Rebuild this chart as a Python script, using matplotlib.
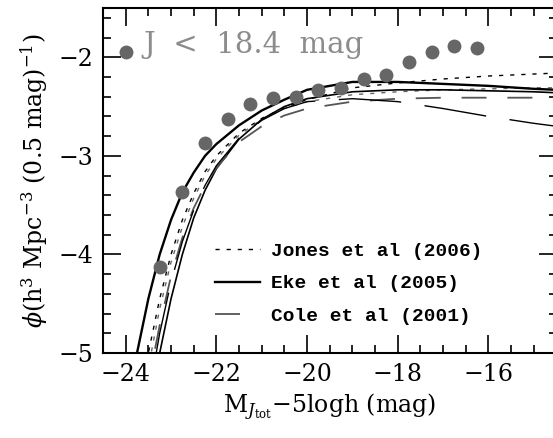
import numpy as np
import matplotlib
matplotlib.use("Agg")
import matplotlib.pyplot as plt
from matplotlib.ticker import MultipleLocator

# observed J-band luminosity function (J < 18.4 mag), log phi per 0.5 mag
obs_mag = [-24.0, -23.25, -22.75, -22.25, -21.75, -21.25, -20.75, -20.25,
           -19.75, -19.25, -18.75, -18.25, -17.75, -17.25, -16.75, -16.25]
obs_phi = [-1.95, -4.13, -3.37, -2.87, -2.63, -2.47, -2.41, -2.40,
           -2.33, -2.31, -2.22, -2.18, -2.05, -1.95, -1.89, -1.91]

model_mag = [-24.0, -23.75, -23.5, -23.25, -23.0, -22.75, -22.5, -22.25, -22.0,
             -21.5, -21.0, -20.5, -20.0, -19.0, -18.0, -17.0, -16.0, -15.0, -14.5]
jones_a = [-6.40, -5.60, -5.00, -4.45, -4.00, -3.65, -3.38, -3.16, -3.00,
           -2.77, -2.62, -2.51, -2.43, -2.31, -2.26, -2.22, -2.19, -2.17, -2.16]
jones_b = [-6.70, -5.80, -5.15, -4.55, -4.08, -3.72, -3.43, -3.20, -3.03,
           -2.79, -2.63, -2.52, -2.45, -2.38, -2.35, -2.33, -2.32, -2.31, -2.31]
eke_a = [-5.60, -5.00, -4.45, -4.00, -3.65, -3.37, -3.17, -3.00, -2.88,
         -2.69, -2.54, -2.43, -2.33, -2.25, -2.25, -2.27, -2.29, -2.32, -2.33]
eke_b = [-7.60, -6.50, -5.60, -5.00, -4.45, -4.00, -3.63, -3.35, -3.13,
         -2.83, -2.63, -2.50, -2.42, -2.35, -2.33, -2.33, -2.34, -2.35, -2.36]
cole_a = [-7.00, -6.00, -5.30, -4.72, -4.22, -3.83, -3.53, -3.30, -3.12,
          -2.86, -2.70, -2.59, -2.52, -2.45, -2.42, -2.41, -2.41, -2.41, -2.41]
cole_b = [-7.40, -6.30, -5.45, -4.80, -4.28, -3.87, -3.55, -3.30, -3.10,
          -2.82, -2.64, -2.52, -2.45, -2.42, -2.45, -2.52, -2.60, -2.67, -2.70]

plt.rcParams['font.family'] = ['DejaVu Serif']
plt.rcParams['mathtext.fontset'] = 'dejavuserif'
plt.rcParams['lines.scale_dashes'] = False

fig = plt.figure(figsize=(5.53, 4.38), dpi=100)
ax = fig.add_axes([103 / 553, 85 / 438, 453.5 / 553, 345 / 438])

# model lines
ax.plot(model_mag, jones_a, color='black', lw=1.0, dashes=(3, 5), label='Jones et al (2006)')
ax.plot(model_mag, jones_b, color='#666666', lw=1.0, dashes=(3, 5))
ax.plot(model_mag, eke_a, color='black', lw=1.7, label='Eke et al (2005)')
ax.plot(model_mag, eke_b, color='black', lw=1.2)
ax.plot(model_mag, cole_a, color='#555555', lw=1.3, dashes=(18, 15), label='Cole et al (2001)')
ax.plot(model_mag, cole_b, color='black', lw=1.0, dashes=(45, 17))

# data
ax.plot(obs_mag, obs_phi, 'o', color='#666666', ms=10, mec='none', zorder=5)

ax.text(-23.62, -1.96, 'J  <  18.4  mag', color='#8c8c8c', fontsize=21,
        ha='left', va='baseline')

ax.set_xlim(-24.5, -14.5)
ax.set_ylim(-5, -1.5)
ax.xaxis.set_minor_locator(MultipleLocator(0.5))
ax.yaxis.set_minor_locator(MultipleLocator(0.2))
ax.set_xticks([-24, -22, -20, -18, -16])
ax.set_xticklabels(['\u221224', '\u221222', '\u221220', '\u221218', '\u221216'])
ax.set_yticks([-5, -4, -3, -2])
ax.set_yticklabels(['\u22125', '\u22124', '\u22123', '\u22122'])
ax.tick_params(which='both', direction='in', top=True, right=True,
               labelsize=17, width=1.2, pad=7)
ax.tick_params(which='major', length=13)
ax.tick_params(which='minor', length=6)
for s in ax.spines.values():
    s.set_linewidth(1.5)

ax.set_xlabel(r'M$_{J_{\rm tot}}$$-$5logh (mag)', fontsize=17, labelpad=4)
ax.set_ylabel(r'$\phi$(h$^3$ Mpc$^{-3}$ (0.5 mag)$^{-1}$)', fontsize=17, labelpad=6)

leg = ax.legend(loc='upper left', bbox_to_anchor=(0.248, 0.32), frameon=False,
                handlelength=2.3, handletextpad=0.55, labelspacing=0.75,
                borderpad=0, borderaxespad=0,
                prop={'family': 'Liberation Mono', 'weight': 'bold', 'size': 14})

fig.savefig('out.png', dpi=100)
